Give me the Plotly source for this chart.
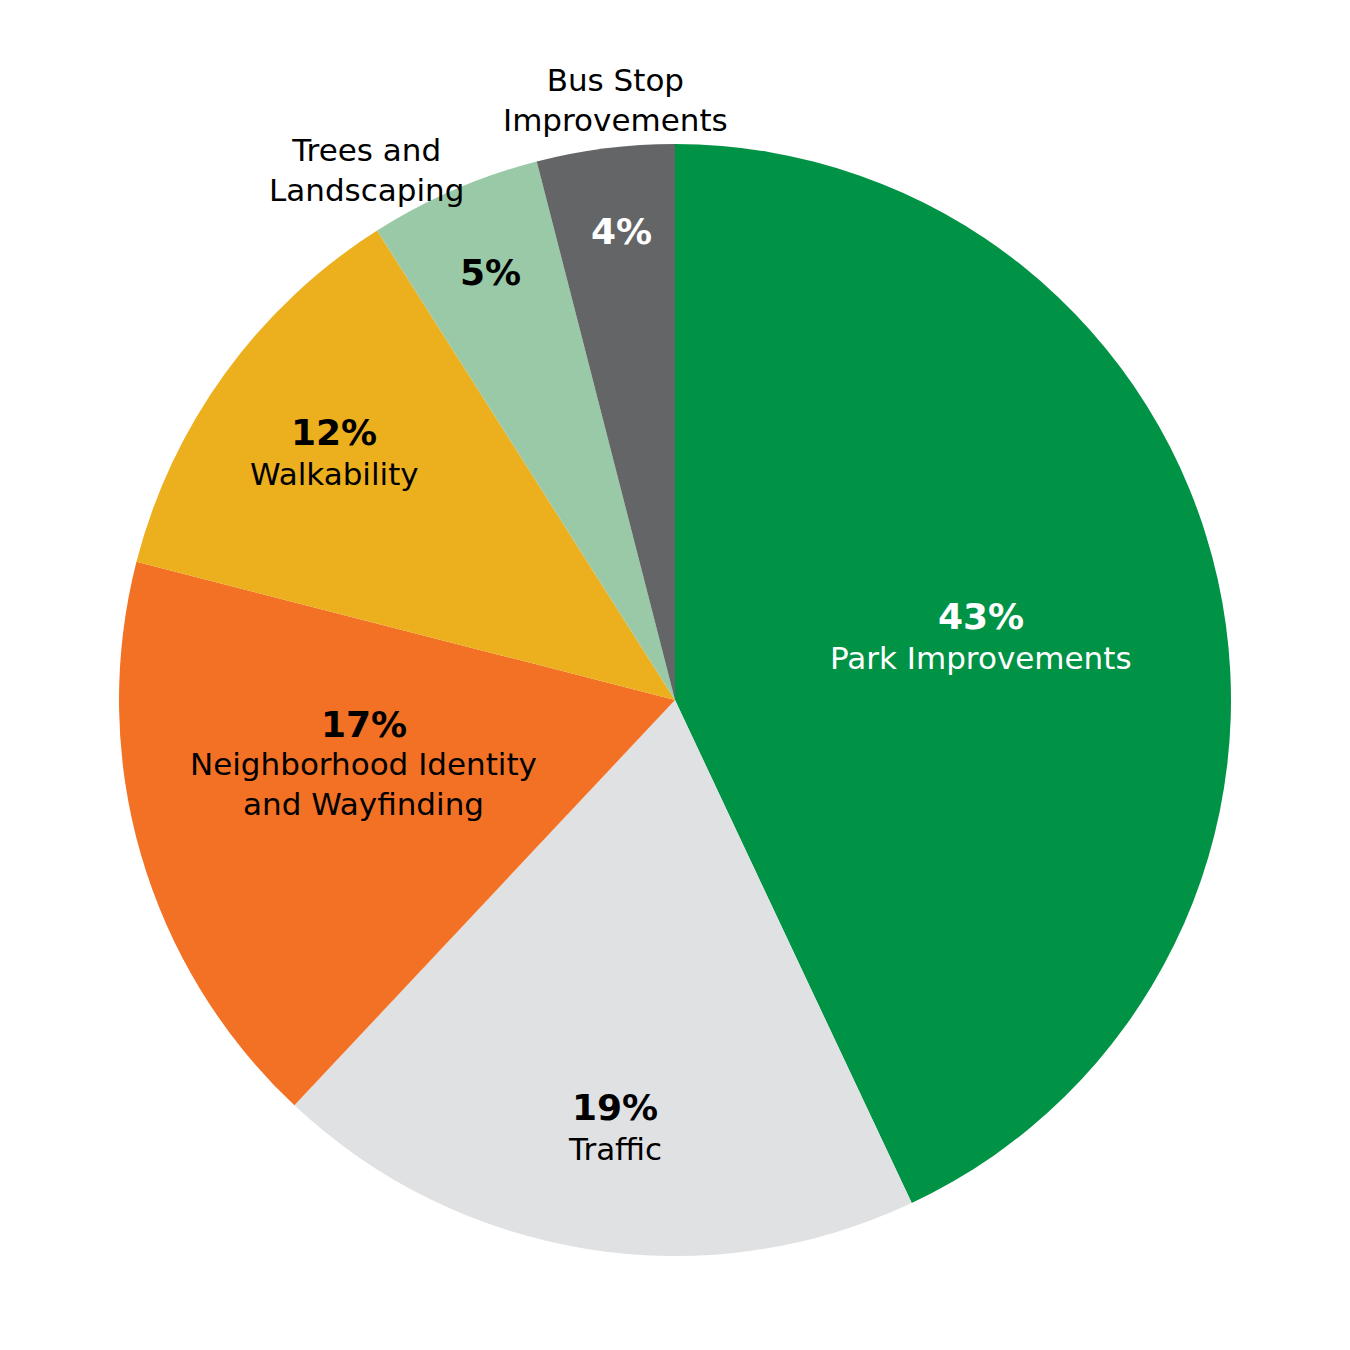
import plotly.graph_objects as go

categories = ["Park Improvements", "Traffic", "Neighborhood Identity<br>and Wayfinding",
              "Walkability", "Trees and<br>Landscaping", "Bus Stop<br>Improvements"]
values = [43, 19, 17, 12, 5, 4]
pct_labels = ["43%", "19%", "17%", "12%", "5%", "4%"]
colors = ["#009245", "#E0E1E3", "#F37124", "#ECB01F", "#99C9A6", "#646567"]
pct_colors = ["white", "black", "black", "black", "black", "white"]
name_colors = ["white", "black", "black", "black", "black", "black"]

# label layout (pixel centres in a 1350x1350 canvas)
pct_pos = [(981, 616), (615, 1107), (364, 724), (334, 432), (490, 273), (621, 232)]
name_pos = [(981, 658), (615, 1149), (364, 784), (334, 474), (366, 170), (615, 100)]

W = H = 1350
cx, cy, r = 675, 700, 556

fig = go.Figure(go.Pie(
    labels=categories, values=values, sort=False, direction="clockwise",
    rotation=0, marker=dict(colors=colors, line=dict(width=0)),
    textinfo="none", hoverinfo="label+percent", showlegend=False,
    domain=dict(x=[(cx - r) / W, (cx + r) / W], y=[1 - (cy + r) / H, 1 - (cy - r) / H]),
))

FONT = "DejaVu Sans"
ann = []
for i in range(len(values)):
    px, py = pct_pos[i]
    ann.append(dict(x=px / W, y=1 - py / H, xref="paper", yref="paper", showarrow=False,
                    text="<b>" + pct_labels[i] + "</b>", xanchor="center", yanchor="middle",
                    font=dict(family=FONT, size=36, color=pct_colors[i])))
    nx, ny = name_pos[i]
    ann.append(dict(x=nx / W, y=1 - ny / H, xref="paper", yref="paper", showarrow=False,
                    text=categories[i], xanchor="center", yanchor="middle", align="center",
                    font=dict(family=FONT, size=31, color=name_colors[i])))

fig.update_layout(width=W, height=H, margin=dict(l=0, r=0, t=0, b=0),
                  paper_bgcolor="white", plot_bgcolor="white", annotations=ann)
fig.write_html("out.html")
